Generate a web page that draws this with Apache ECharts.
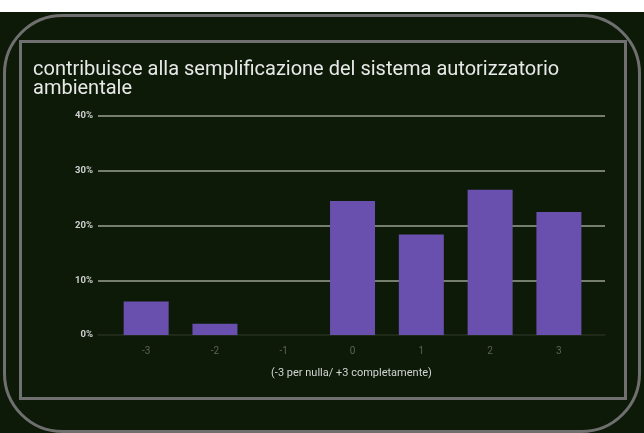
<!DOCTYPE html>
<html>
<head>
<meta charset="utf-8">
<script src="https://cdn.jsdelivr.net/npm/echarts@6/dist/echarts.min.js"></script>
<style>
html,body{margin:0;padding:0;background:#fff;}
#c{width:644px;height:433px;}
</style>
</head>
<body>
<div id="c"></div>
<script>
var titleText = 'contribuisce alla semplificazione del sistema autorizzatorio\nambientale';
var axisTitle = '(-3 per nulla/ +3 completamente)';
var categories = [-3, -2, -1, 0, 1, 2, 3];
var shares = [0.0612, 0.0204, 0, 0.2449, 0.1837, 0.2653, 0.2245];
var yTicks = [0, 0.1, 0.2, 0.3, 0.4];

var chart = echarts.init(document.getElementById('c'), null, {renderer: 'canvas'});
var option = {
  backgroundColor: '#0c1a07',
  animation: false,
  textStyle: {fontFamily: 'Roboto'},
  title: {
    text: titleText,
    left: 33,
    top: 60,
    padding: 0,
    textStyle: {color: '#e8e8e8', fontSize: 20, fontWeight: 'normal', lineHeight: 19, fontFamily: 'Roboto'}
  },
  graphic: [
    {type: 'rect', shape: {x: 0, y: 0, width: 644, height: 12}, style: {fill: '#ffffff'}, z: 0, silent: true},
    {type: 'rect', shape: {x: 4.5, y: 15.5, width: 635, height: 416, r: 58}, style: {fill: null, stroke: '#6f6f6f', lineWidth: 3}, z: 100, silent: true},
    {type: 'rect', shape: {x: 20.5, y: 41.5, width: 605, height: 357}, style: {fill: null, stroke: '#707070', lineWidth: 3}, z: 100, silent: true}
  ],
  grid: {left: 98, right: 39, top: 116, bottom: 98, containLabel: false},
  xAxis: {
    type: 'value',
    min: -3.7,
    max: 3.67,
    name: axisTitle,
    nameLocation: 'middle',
    nameGap: 33,
    nameTextStyle: {color: '#d4d4d4', fontSize: 11, fontFamily: 'Roboto'},
    axisLine: {show: true, onZero: false, lineStyle: {color: '#27301f', width: 1.5}},
    axisTick: {show: false},
    splitLine: {show: false},
    axisLabel: {
      customValues: categories,
      color: '#5c6356',
      fontSize: 10,
      margin: 11,
      showMinLabel: true,
      showMaxLabel: true
    }
  },
  yAxis: {
    type: 'value',
    min: yTicks[0],
    max: yTicks[yTicks.length - 1],
    interval: 0.1,
    axisLine: {show: false},
    axisTick: {show: false},
    axisLabel: {
      color: '#d0d0d0',
      fontSize: 9.5,
      fontWeight: 'bold',
      margin: 5,
      formatter: function (v) { return Math.round(v * 100) + '%'; }
    },
    splitLine: {
      show: true,
      showMinLine: false,
      lineStyle: {color: '#9aa094', width: 1.5}
    }
  },
  series: [{
    type: 'bar',
    data: categories.map(function (c, i) { return [c, shares[i]]; }),
    barWidth: 45,
    itemStyle: {color: '#6a50ae'},
    z: 3
  }]
};
chart.setOption(option);
</script>
</body>
</html>
